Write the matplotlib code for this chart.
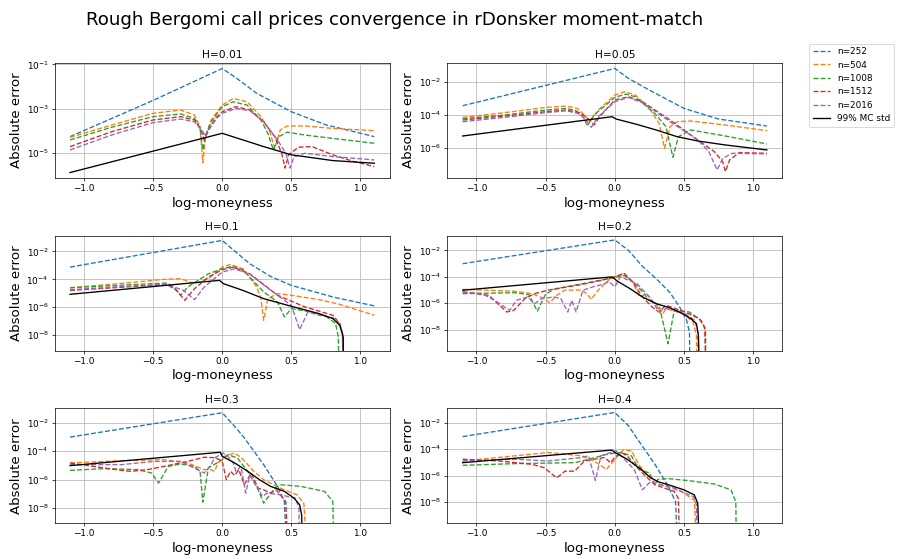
import matplotlib
matplotlib.use("Agg")
import matplotlib.pyplot as plt
from matplotlib.ticker import FixedLocator, NullLocator
import numpy as np

# log10(absolute error), keyed by series label
LABELS = ["n=252", "n=504", "n=1008", "n=1512", "n=2016", "99% MC std"]
H_VALUES = [0.01, 0.05, 0.1, 0.2, 0.3, 0.4]

err_h001 = {
    "n=252": ([-1.1, -0.5, 0.0, 0.1, 0.25, 0.5, 0.75, 1.1],
              [-4.25, -2.62, -1.18, -1.6, -2.3, -3.13, -3.72, -4.25]),
    "n=504": ([-1.1, -0.8, -0.5, -0.3, -0.2, -0.16, -0.14, -0.12, -0.08, 0.0, 0.08, 0.18, 0.28, 0.34, 0.38, 0.42, 0.47, 0.6, 0.8, 1.1],
              [-4.28, -3.73, -3.2, -3.05, -3.28, -3.8, -5.42, -4.25, -3.5, -2.83, -2.53, -2.68, -3.35, -3.95, -4.78, -3.95, -3.77, -3.77, -3.88, -3.98]),
    "n=1008": ([-1.1, -0.8, -0.5, -0.3, -0.2, -0.16, -0.14, -0.12, -0.08, 0.0, 0.08, 0.18, 0.28, 0.33, 0.37, 0.41, 0.47, 0.6, 0.8, 1.1],
               [-4.4, -3.83, -3.35, -3.23, -3.43, -3.88, -4.85, -4.18, -3.58, -2.9, -2.68, -2.83, -3.5, -4.1, -4.85, -4.25, -4.05, -4.18, -4.33, -4.55]),
    "n=1512": ([-1.1, -0.8, -0.5, -0.3, -0.2, -0.15, -0.13, -0.1, -0.05, 0.0, 0.1, 0.2, 0.3, 0.38, 0.43, 0.455, 0.48, 0.55, 0.65, 0.8, 0.95, 1.1],
               [-4.7, -4.03, -3.5, -3.35, -3.5, -3.95, -4.4, -3.95, -3.43, -3.13, -2.9, -3.05, -3.58, -4.25, -5.0, -5.67, -5.07, -4.73, -4.7, -5.07, -5.37, -5.6]),
    "n=2016": ([-1.1, -0.8, -0.5, -0.3, -0.2, -0.14, -0.12, -0.09, -0.04, 0.0, 0.1, 0.2, 0.3, 0.4, 0.46, 0.49, 0.52, 0.6, 0.8, 1.1],
               [-4.85, -4.18, -3.62, -3.46, -3.58, -4.03, -4.25, -3.88, -3.43, -3.2, -2.98, -3.08, -3.58, -4.4, -5.0, -5.67, -5.15, -5.0, -5.15, -5.3]),
    "99% MC std": ([-1.1, 0.0, 0.1, 0.3, 0.5, 0.8, 1.1],
                   [-5.87, -4.1, -4.3, -4.7, -5.07, -5.33, -5.45]),
}

err_h005 = {
    "n=252": ([-1.1, 0.0, 0.1, 0.25, 0.5, 0.75, 1.1],
              [-3.44, -1.2, -1.8, -2.5, -3.6, -4.24, -4.66]),
    "n=504": ([-1.1, -0.8, -0.5, -0.35, -0.27, -0.22, -0.18, -0.12, 0.0, 0.07, 0.15, 0.25, 0.32, 0.36, 0.4, 0.45, 0.55, 0.8, 1.1],
              [-4.14, -3.86, -3.54, -3.46, -3.6, -4.0, -4.4, -3.7, -2.8, -2.6, -2.8, -3.6, -4.5, -6.0, -4.7, -4.4, -4.36, -4.6, -4.94]),
    "n=1008": ([-1.1, -0.8, -0.5, -0.35, -0.28, -0.22, -0.2, -0.15, 0.0, 0.08, 0.15, 0.3, 0.37, 0.42, 0.46, 0.55, 0.8, 1.1],
               [-4.22, -4.0, -3.7, -3.6, -3.74, -4.2, -4.66, -4.0, -2.94, -2.74, -2.9, -4.0, -4.7, -6.54, -5.3, -4.9, -5.26, -5.74]),
    "n=1512": ([-1.1, -0.8, -0.5, -0.35, -0.25, -0.18, -0.15, -0.1, 0.0, 0.1, 0.2, 0.4, 0.6, 0.72, 0.78, 0.8, 0.83, 0.9, 1.1],
               [-4.3, -4.06, -3.8, -3.7, -3.86, -4.3, -4.6, -4.0, -3.1, -2.9, -3.2, -4.3, -5.5, -6.2, -6.8, -7.4, -6.7, -6.26, -6.3]),
    "n=2016": ([-1.1, -0.8, -0.5, -0.35, -0.25, -0.2, -0.17, -0.12, 0.0, 0.1, 0.2, 0.4, 0.6, 0.68, 0.74, 0.78, 0.85, 1.1],
               [-4.4, -4.14, -3.86, -3.74, -3.94, -4.4, -4.74, -4.1, -3.2, -2.94, -3.26, -4.4, -5.5, -6.2, -7.3, -6.6, -6.3, -6.34]),
    "99% MC std": ([-1.1, -0.02, 0.01, 0.15, 0.3, 0.45, 0.6, 0.8, 1.1],
                   [-5.26, -4.1, -4.24, -4.54, -4.9, -5.3, -5.56, -5.8, -6.1]),
}

err_h01 = {
    "n=252": ([-1.1, 0.0, 0.1, 0.2, 0.35, 0.5, 0.8, 1.1],
              [-3.12, -1.21, -2.05, -2.88, -3.79, -4.43, -5.26, -5.9]),
    "n=504": ([-1.1, -0.7, -0.4, -0.3, -0.2, -0.1, 0.0, 0.06, 0.15, 0.25, 0.28, 0.3, 0.33, 0.4, 0.5, 0.7, 0.85, 1.0, 1.1],
              [-4.6, -4.26, -3.98, -3.95, -4.31, -3.95, -3.12, -2.93, -3.24, -4.55, -5.38, -6.93, -5.38, -5.02, -5.14, -5.45, -5.79, -6.26, -6.57]),
    "n=1008": ([-1.1, -0.7, -0.4, -0.35, -0.3, -0.25, -0.1, 0.0, 0.07, 0.15, 0.3, 0.4, 0.45, 0.5, 0.6, 0.75, 0.82, 0.84, 0.845],
               [-4.6, -4.4, -4.26, -4.55, -5.14, -4.55, -3.6, -3.24, -3.07, -3.31, -4.9, -5.62, -6.69, -6.1, -6.26, -6.64, -7.17, -8.12, -12.0]),
    "n=1512": ([-1.1, -0.7, -0.4, -0.33, -0.27, -0.2, -0.1, 0.0, 0.08, 0.2, 0.4, 0.6, 0.8, 0.85, 0.87, 0.875],
               [-4.79, -4.55, -4.36, -4.79, -5.5, -4.67, -3.83, -3.31, -3.12, -3.6, -5.14, -5.98, -6.57, -7.17, -7.88, -12.0]),
    "n=2016": ([-1.1, -0.7, -0.4, -0.28, -0.2, -0.13, 0.0, 0.09, 0.2, 0.4, 0.5, 0.56, 0.62, 0.7, 0.8, 0.85, 0.87, 0.875],
               [-4.74, -4.5, -4.36, -4.79, -5.45, -4.55, -3.48, -3.24, -3.64, -5.14, -5.86, -7.6, -6.33, -6.57, -6.74, -7.17, -7.88, -12.0]),
    "99% MC std": ([-1.1, -0.02, 0.01, 0.15, 0.3, 0.5, 0.7, 0.8, 0.85, 0.875, 0.88],
                   [-5.07, -4.07, -4.31, -4.79, -5.38, -5.93, -6.45, -6.81, -7.29, -8.12, -12.0]),
}

err_h02 = {
    "n=252": ([-1.1, 0.0, 0.1, 0.2, 0.3, 0.4, 0.47, 0.52, 0.54, 0.545],
              [-3.0, -1.2, -2.0, -3.2, -4.14, -5.2, -6.3, -7.3, -8.2, -12.0]),
    "n=504": ([-1.1, -0.72, -0.6, -0.52, -0.47, -0.42, -0.36, -0.24, -0.2, -0.17, -0.12, -0.03, 0.06, 0.13, 0.18, 0.23, 0.31, 0.34, 0.37, 0.49, 0.565, 0.59, 0.595],
              [-4.94, -5.09, -5.27, -5.6, -5.95, -5.4, -5.0, -5.0, -5.3, -5.7, -5.0, -4.1, -3.75, -4.38, -5.52, -5.27, -6.28, -6.91, -6.4, -6.78, -7.4, -8.4, -12.0]),
    "n=1008": ([-1.1, -0.72, -0.62, -0.56, -0.5, -0.43, -0.2, -0.03, 0.07, 0.16, 0.25, 0.32, 0.385, 0.43, 0.54, 0.625, 0.656, 0.66],
               [-5.27, -5.2, -5.35, -6.6, -5.3, -4.9, -4.45, -4.1, -3.9, -4.63, -5.77, -6.15, -9.06, -6.53, -6.66, -7.3, -8.05, -12.0]),
    "n=1512": ([-1.1, -0.91, -0.78, -0.73, -0.65, -0.58, -0.48, -0.24, -0.03, 0.07, 0.13, 0.2, 0.27, 0.32, 0.37, 0.51, 0.61, 0.65, 0.66],
               [-5.14, -5.4, -6.66, -6.53, -5.65, -5.27, -5.0, -4.58, -4.1, -3.75, -4.38, -5.52, -6.28, -6.66, -6.15, -6.66, -7.16, -7.8, -12.0]),
    "n=2016": ([-1.1, -0.96, -0.87, -0.76, -0.71, -0.63, -0.58, -0.53, -0.44, -0.39, -0.34, -0.31, -0.28, -0.23, -0.16, -0.11, -0.04, 0.0, 0.04, 0.16, 0.25, 0.29, 0.32, 0.37, 0.49, 0.58, 0.6, 0.605],
               [-5.14, -5.27, -5.77, -6.53, -5.77, -5.52, -6.03, -5.65, -5.52, -5.65, -6.66, -5.77, -6.66, -5.01, -4.76, -4.63, -4.38, -4.76, -4.0, -4.5, -5.52, -6.15, -6.66, -6.4, -6.66, -7.3, -8.2, -12.0]),
    "99% MC std": ([-1.1, -0.02, 0.02, 0.11, 0.2, 0.3, 0.4, 0.49, 0.55, 0.59, 0.605, 0.613],
                   [-5.01, -4.0, -4.33, -4.89, -5.52, -6.03, -6.35, -6.78, -7.16, -7.54, -8.43, -12.0]),
}

err_h03 = {
    "n=252": ([-1.1, 0.0, 0.1, 0.16, 0.3, 0.4, 0.45, 0.47],
              [-3.0, -1.29, -2.35, -3.06, -4.94, -6.47, -7.53, -12.0]),
    "n=504": ([-1.1, -0.73, -0.42, -0.25, -0.13, -0.08, -0.055, -0.03, 0.02, 0.09, 0.14, 0.23, 0.3, 0.42, 0.54, 0.59, 0.62],
              [-4.82, -4.66, -4.59, -4.82, -5.29, -5.3, -5.41, -4.82, -4.35, -4.12, -4.47, -5.41, -6.0, -6.59, -7.06, -7.65, -12.0]),
    "n=1008": ([-1.1, -0.85, -0.61, -0.51, -0.46, -0.39, -0.3, -0.2, -0.16, -0.14, -0.1, 0.0, 0.04, 0.11, 0.185, 0.26, 0.3, 0.38, 0.42, 0.57, 0.74, 0.8, 0.81],
               [-5.34, -5.22, -5.29, -5.53, -6.24, -5.06, -4.89, -5.06, -5.41, -7.58, -5.18, -4.59, -4.24, -4.47, -5.41, -6.7, -7.65, -6.59, -6.35, -6.47, -6.82, -7.53, -12.0]),
    "n=1512": ([-1.1, -0.97, -0.85, -0.73, -0.66, -0.54, -0.42, -0.25, -0.13, -0.05, 0.0, 0.03, 0.06, 0.09, 0.12, 0.16, 0.21, 0.26, 0.3, 0.35, 0.39, 0.42, 0.46, 0.48],
               [-4.82, -5.01, -5.18, -5.34, -5.41, -5.29, -5.06, -4.71, -4.42, -4.45, -4.7, -6.0, -5.41, -5.7, -5.3, -6.35, -5.53, -6.59, -6.71, -6.94, -6.71, -7.06, -7.53, -12.0]),
    "n=2016": ([-1.1, -0.73, -0.49, -0.3, -0.18, -0.13, -0.08, -0.055, 0.005, 0.04, 0.08, 0.1, 0.135, 0.17, 0.2, 0.26, 0.29, 0.325, 0.42, 0.53, 0.555, 0.56],
               [-4.94, -4.94, -4.71, -4.71, -5.29, -5.53, -4.94, -4.47, -4.12, -4.35, -4.82, -5.41, -5.06, -6.94, -5.65, -6.59, -7.18, -6.94, -7.06, -7.3, -8.0, -12.0]),
    "99% MC std": ([-1.1, -0.014, 0.0, 0.09, 0.185, 0.27, 0.35, 0.45, 0.52, 0.56, 0.575, 0.58],
                   [-5.01, -4.07, -4.35, -4.82, -5.41, -6.0, -6.47, -6.82, -7.3, -7.76, -8.5, -12.0]),
}

err_h04 = {
    "n=252": ([-1.1, 0.0, 0.1, 0.154, 0.29, 0.38, 0.44, 0.455],
              [-3.06, -1.24, -2.25, -3.1, -5.15, -6.7, -7.97, -12.0]),
    "n=504": ([-1.1, -0.72, -0.48, -0.24, -0.15, -0.06, -0.01, 0.06, 0.12, 0.18, 0.24, 0.33, 0.48, 0.575, 0.594],
              [-4.9, -4.51, -4.26, -4.51, -4.9, -5.54, -4.9, -4.08, -4.13, -5.28, -5.92, -6.69, -7.2, -7.85, -12.0]),
    "n=1008": ([-1.1, -0.72, -0.29, -0.14, -0.05, 0.046, 0.12, 0.155, 0.21, 0.25, 0.29, 0.31, 0.38, 0.53, 0.72, 0.84, 0.875, 0.88],
               [-5.23, -5.1, -5.03, -4.64, -4.38, -4.26, -4.51, -5.15, -5.67, -5.8, -6.69, -6.3, -6.23, -6.38, -6.64, -7.08, -7.97, -12.0]),
    "n=1512": ([-1.1, -0.84, -0.6, -0.51, -0.42, -0.36, -0.29, -0.22, -0.15, -0.075, -0.03, 0.0, 0.046, 0.09, 0.14, 0.21, 0.29, 0.36, 0.43, 0.46, 0.47],
               [-4.77, -4.9, -5.15, -5.41, -6.18, -5.67, -5.67, -4.9, -4.77, -4.64, -5.03, -4.64, -4.26, -4.51, -5.15, -5.92, -6.69, -6.95, -7.2, -7.72, -12.0]),
    "n=2016": ([-1.1, -0.72, -0.48, -0.24, -0.19, -0.14, -0.1, -0.03, 0.01, 0.07, 0.14, 0.2, 0.26, 0.33, 0.43, 0.48, 0.57, 0.59, 0.595],
               [-4.9, -4.77, -4.9, -4.64, -4.51, -6.38, -4.51, -4.26, -4.13, -4.77, -5.54, -7.08, -6.44, -6.69, -6.95, -7.2, -7.6, -8.2, -12.0]),
    "99% MC std": ([-1.1, -0.02, 0.0, 0.09, 0.19, 0.26, 0.32, 0.41, 0.5, 0.575, 0.6, 0.613],
                   [-5.03, -4.08, -4.26, -4.77, -5.54, -6.18, -6.49, -6.77, -7.08, -7.46, -8.1, -12.0]),
}

PANELS = [err_h001, err_h005, err_h01, err_h02, err_h03, err_h04]
# visible y range (log10) of each panel
YLIMS = [(-6.11, -0.94), (-7.78, -0.88), (-9.1, -0.88),
         (-9.58, -0.89), (-9.06, -0.99), (-9.6, -0.94)]
# labelled decades on the y axis of each panel
YTICK_EXP = [[-5, -3, -1], [-6, -4, -2], [-8, -6, -4, -2],
             [-8, -6, -4, -2], [-8, -6, -4, -2], [-8, -6, -4, -2]]


def plot_panel(ax, h, series, ylim, yexp):
    for i, label in enumerate(LABELS):
        xs, logy = series[label]
        ys = 10.0 ** np.array(logy)
        if label == "99% MC std":
            ax.plot(xs, ys, color="black", linestyle="-", label=label)
        else:
            ax.plot(xs, ys, color="C%d" % i, linestyle="--", label=label)
    ax.set_yscale("log")
    ax.set_xlim(-1.21, 1.21)
    ax.set_ylim(10.0 ** ylim[0], 10.0 ** ylim[1])
    ax.yaxis.set_major_locator(FixedLocator([10.0 ** e for e in yexp]))
    ax.yaxis.set_minor_locator(NullLocator())
    ax.set_title("H=%s" % h, fontsize=12)
    ax.set_xlabel("log-moneyness", fontsize=15)
    ax.set_ylabel("Absolute error", fontsize=15)
    ax.tick_params(labelsize=10)
    ax.grid(True)


def main():
    fig, axes = plt.subplots(3, 2, figsize=(899 / 64, 559 / 64), dpi=64)
    fig.subplots_adjust(left=0.061, right=0.87, bottom=0.064, top=0.887,
                        wspace=0.173, hspace=0.505)
    for ax, h, series, ylim, yexp in zip(axes.flat, H_VALUES, PANELS, YLIMS, YTICK_EXP):
        plot_panel(ax, h, series, ylim, yexp)
    handles, labels = axes[0, 0].get_legend_handles_labels()
    fig.legend(handles, labels, loc="upper left",
               bbox_to_anchor=(0.895, 0.93), fontsize=10)
    fig.suptitle("Rough Bergomi call prices convergence in rDonsker moment-match",
                 x=0.4394, fontsize=20.6)
    fig.savefig("out.png", dpi=64)


if __name__ == "__main__":
    main()
